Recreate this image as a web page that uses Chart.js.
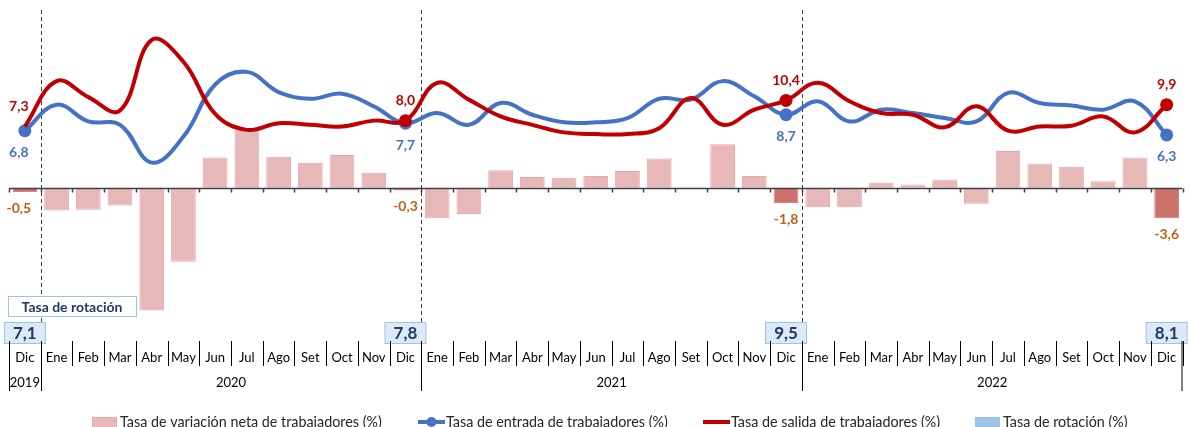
<!DOCTYPE html>
<html lang="es">
<head>
<meta charset="utf-8">
<title>Tasas de entrada, salida y rotación de trabajadores</title>
<script src="https://cdn.jsdelivr.net/npm/chart.js@4.4.1/dist/chart.umd.min.js"></script>
<style>
    html, body { margin: 0; padding: 0; background: #fff; }
    #wrap { position: relative; width: 1189px; height: 427px; }
</style>
</head>
<body>
<div id="wrap"><canvas id="rotacionChart"></canvas></div>
<script>
// Meses de diciembre 2019 a diciembre 2022
const meses = ['Dic',
    'Ene', 'Feb', 'Mar', 'Abr', 'May', 'Jun', 'Jul', 'Ago', 'Set', 'Oct', 'Nov', 'Dic',
    'Ene', 'Feb', 'Mar', 'Abr', 'May', 'Jun', 'Jul', 'Ago', 'Set', 'Oct', 'Nov', 'Dic',
    'Ene', 'Feb', 'Mar', 'Abr', 'May', 'Jun', 'Jul', 'Ago', 'Set', 'Oct', 'Nov', 'Dic'];

// Grupos de años (índices de meses)
const anios = [
    { label: '2019', desde: 0, hasta: 0 },
    { label: '2020', desde: 1, hasta: 12 },
    { label: '2021', desde: 13, hasta: 24 },
    { label: '2022', desde: 25, hasta: 36 }
];

// Tasa de variación neta de trabajadores (%)
const variacionNeta = [-0.5,
    -2.7, -2.6, -2.1, -14.6, -8.8, 3.6, 6.9, 3.7, 3.0, 3.9, 1.8, -0.3,
    -3.6, -3.1, 2.1, 1.3, 1.2, 1.4, 2.0, 3.5, -0.1, 5.2, 1.4, -1.8,
    -2.3, -2.3, 0.6, 0.4, 1.0, -1.9, 4.4, 2.9, 2.5, 0.8, 3.6, -3.6];

// Tasa de entrada de trabajadores (%)
const tasaEntrada = [6.8,
    9.9, 7.9, 7.5, 3.0, 6.1, 12.3, 13.8, 11.4, 10.6, 11.2, 9.7, 7.7,
    8.9, 7.5, 10.1, 8.7, 7.8, 7.8, 8.3, 10.6, 10.5, 12.7, 10.9, 8.7,
    10.3, 7.9, 9.3, 8.9, 8.3, 7.9, 11.3, 10.1, 9.8, 9.3, 10.3, 6.3];

// Tasa de salida de trabajadores (%)
const tasaSalida = [7.3,
    12.7, 10.8, 9.2, 17.6, 15.0, 8.8, 6.9, 7.7, 7.5, 7.3, 8.0, 8.0,
    12.5, 10.5, 8.5, 7.5, 6.6, 6.4, 6.4, 7.1, 10.7, 7.5, 9.3, 10.4,
    12.5, 10.3, 8.9, 8.7, 7.2, 9.7, 6.8, 7.3, 7.4, 8.5, 6.6, 9.9];

// Tasa de rotación (%) - solo a diciembre
const tasaRotacion = [7.1,
    null, null, null, null, null, null, null, null, null, null, null, 7.8,
    null, null, null, null, null, null, null, null, null, null, null, 9.5,
    null, null, null, null, null, null, null, null, null, null, null, 8.1];

// Diciembres: se etiquetan y se resaltan
const cierres = tasaRotacion.map((v, i) => v === null ? -1 : i).filter(i => i >= 0);

const FUENTE = 'Lato, "Open Sans", sans-serif';
const fmt = v => v.toFixed(1).replace('.', ',');

// Etiquetas de valores, ejes por meses/años, cuadros de rotación y leyenda
const decoraciones = {
    id: 'decoraciones',
    beforeDatasetsDraw(chart) {
        const { ctx, scales: { x } } = chart;
        const paso = x.getPixelForValue(1) - x.getPixelForValue(0);
        ctx.save();
        ctx.strokeStyle = '#404040';
        ctx.lineWidth = 1;
        ctx.setLineDash([4, 3]);
        anios.slice(0, -1).forEach(a => {
            const xb = Math.round(x.getPixelForValue(a.hasta) + paso / 2) + 0.5;
            ctx.beginPath();
            ctx.moveTo(xb, 10);
            ctx.lineTo(xb, 341);
            ctx.stroke();
        });
        ctx.restore();
    },
    afterDatasetsDraw(chart) {
        const { ctx, chartArea, scales: { x, y } } = chart;
        const paso = x.getPixelForValue(1) - x.getPixelForValue(0);
        const y0 = Math.round(y.getPixelForValue(0)) + 0.5;

        // eje en cero con marcas
        ctx.save();
        ctx.strokeStyle = '#404040';
        ctx.lineWidth = 1.5;
        ctx.beginPath();
        ctx.moveTo(chartArea.left, y0);
        ctx.lineTo(chartArea.right, y0);
        for (let i = 0; i <= meses.length; i++) {
            const xb = Math.round(x.getPixelForValue(0) - paso / 2 + i * paso) + 0.5;
            ctx.moveTo(xb, y0);
            ctx.lineTo(xb, y0 + 4);
        }
        ctx.stroke();

        // etiquetas de diciembre
        const barras = chart.getDatasetMeta(0).data;
        const entrada = chart.getDatasetMeta(1).data;
        const salida = chart.getDatasetMeta(2).data;
        ctx.font = 'bold 14px ' + FUENTE;
        ctx.textAlign = 'center';
        ctx.textBaseline = 'middle';
        cierres.forEach(i => {
            const dx = i === 0 ? -6 : 0;
            const b = barras[i];
            ctx.fillStyle = '#c0601c';
            ctx.fillText(fmt(variacionNeta[i]), b.x + dx, Math.max(b.y, b.base) + 16);
            ctx.fillStyle = '#c00000';
            ctx.fillText(fmt(tasaSalida[i]), salida[i].x + dx, salida[i].y - 20);
            ctx.fillStyle = '#4472c4';
            ctx.fillText(fmt(tasaEntrada[i]), entrada[i].x + dx, entrada[i].y + 22);
        });
        ctx.restore();
    },
    afterDraw(chart) {
        const { ctx, chartArea, scales: { x } } = chart;
        const paso = x.getPixelForValue(1) - x.getPixelForValue(0);
        ctx.save();

        // cuadro "Tasa de rotación"
        ctx.fillStyle = '#ffffff';
        ctx.strokeStyle = '#9dc3e6';
        ctx.lineWidth = 1;
        ctx.fillRect(8.5, 296.5, 128, 20);
        ctx.strokeRect(8.5, 296.5, 128, 20);
        ctx.fillStyle = '#1f3864';
        ctx.font = 'bold 14px ' + FUENTE;
        ctx.textAlign = 'center';
        ctx.textBaseline = 'middle';
        ctx.fillText('Tasa de rotación', 72, 307);

        // valores de rotación
        cierres.forEach(i => {
            const xc = x.getPixelForValue(i);
            ctx.fillStyle = '#dce9f7';
            ctx.fillRect(xc - 20.5, 322.5, 41, 21);
            ctx.strokeStyle = '#9dc3e6';
            ctx.strokeRect(xc - 20.5, 322.5, 41, 21);
            ctx.fillStyle = '#1f3864';
            ctx.font = 'bold 17px ' + FUENTE;
            ctx.fillText(fmt(tasaRotacion[i]), xc, 334);
        });

        // meses
        ctx.fillStyle = '#000000';
        ctx.strokeStyle = '#000000';
        ctx.font = '13px ' + FUENTE;
        meses.forEach((m, i) => ctx.fillText(m, x.getPixelForValue(i), 358));
        ctx.beginPath();
        for (let i = 0; i <= meses.length; i++) {
            const xb = Math.round(x.getPixelForValue(0) - paso / 2 + i * paso) + 0.5;
            ctx.moveTo(xb, 341);
            ctx.lineTo(xb, 366);
        }
        // años
        anios.forEach(a => {
            const x1 = x.getPixelForValue(a.desde) - paso / 2;
            const x2 = x.getPixelForValue(a.hasta) + paso / 2;
            ctx.fillText(a.label, (x1 + x2) / 2, 383);
            [x1, x2].forEach(xb => {
                const xr = Math.min(Math.round(xb), chartArea.right - 1) + 0.5;
                ctx.moveTo(xr, 341);
                ctx.lineTo(xr, 391);
            });
        });
        ctx.lineWidth = 1;
        ctx.stroke();

        // leyenda
        const items = [
            { texto: 'Tasa de variación neta de trabajadores (%)', tipo: 'caja', color: '#e6b8b7', borde: '#f4a3aa', x: 92 },
            { texto: 'Tasa de entrada de trabajadores (%)', tipo: 'punto', color: '#4472c4', x: 418 },
            { texto: 'Tasa de salida de trabajadores (%)', tipo: 'linea', color: '#c00000', x: 703 },
            { texto: 'Tasa de rotación (%)', tipo: 'caja', color: '#9dc3e6', borde: '#9dc3e6', x: 975 }
        ];
        ctx.font = '14px ' + FUENTE;
        const escala = 262 / ctx.measureText(items[0].texto).width;
        ctx.font = (14 * escala).toFixed(2) + 'px ' + FUENTE;
        ctx.textAlign = 'left';
        ctx.textBaseline = 'middle';
        const ly = 422;
        items.forEach(it => {
            const lx = it.x;
            if (it.tipo === 'caja') {
                ctx.fillStyle = it.color;
                ctx.fillRect(lx, ly - 5, 25, 12);
                ctx.strokeStyle = it.borde;
                ctx.strokeRect(lx + 0.5, ly - 4.5, 24, 11);
            } else {
                ctx.strokeStyle = it.color;
                ctx.lineWidth = 4;
                ctx.beginPath();
                ctx.moveTo(lx, ly);
                ctx.lineTo(lx + 27, ly);
                ctx.stroke();
                ctx.lineWidth = 1;
                if (it.tipo === 'punto') {
                    ctx.fillStyle = it.color;
                    ctx.beginPath();
                    ctx.arc(lx + 13.5, ly, 5, 0, Math.PI * 2);
                    ctx.fill();
                }
            }
            ctx.fillStyle = '#262626';
            ctx.fillText(it.texto, lx + 28, ly);
        });
        ctx.restore();
    }
};

const ctxRot = document.getElementById('rotacionChart').getContext('2d');
new Chart(ctxRot, {
    type: 'bar',
    data: {
        labels: meses,
        datasets: [
            {
                type: 'bar',
                label: 'Tasa de variación neta de trabajadores (%)',
                data: variacionNeta,
                backgroundColor: meses.map((m, i) => cierres.includes(i) ? '#cd716c' : '#e6b8b7'),
                borderColor: meses.map((m, i) => cierres.includes(i) ? '#e07d7d' : '#f4a3aa'),
                borderWidth: 1,
                barPercentage: 0.78,
                categoryPercentage: 1,
                order: 3
            },
            {
                type: 'line',
                label: 'Tasa de entrada de trabajadores (%)',
                data: tasaEntrada,
                borderColor: '#4472c4',
                backgroundColor: '#4472c4',
                borderWidth: 4,
                tension: 0.4,
                pointRadius: meses.map((m, i) => cierres.includes(i) ? 6.5 : 0),
                pointBorderWidth: 0,
                order: 2
            },
            {
                type: 'line',
                label: 'Tasa de salida de trabajadores (%)',
                data: tasaSalida,
                borderColor: '#c00000',
                backgroundColor: '#c00000',
                borderWidth: 4,
                tension: 0.4,
                pointRadius: meses.map((m, i) => cierres.includes(i) && i > 0 ? 6.5 : 0),
                pointBorderWidth: 0,
                order: 1
            }
        ]
    },
    options: {
        responsive: true,
        maintainAspectRatio: false,
        animation: false,
        layout: { padding: { left: 9, right: 0, top: 8, bottom: 87 } },
        plugins: {
            legend: { display: false },
            tooltip: { enabled: false }
        },
        scales: {
            x: {
                type: 'category',
                offset: true,
                display: false,
                grid: { display: false }
            },
            y: {
                display: false,
                min: -18.1,
                max: 21.4
            }
        }
    },
    plugins: [decoraciones]
});
</script>
</body>
</html>
